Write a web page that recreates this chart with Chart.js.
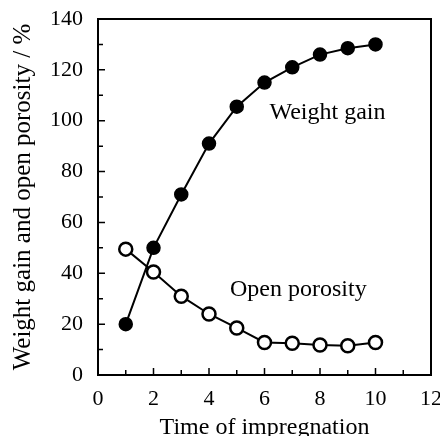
<!DOCTYPE html>
<html>
<head>
<meta charset="utf-8">
<script src="https://cdn.jsdelivr.net/npm/chart.js@4"></script>
<style>
  html, body { margin: 0; padding: 0; background: #fff; }
  #wrap { width: 440px; height: 436px; }
</style>
</head>
<body>
<div id="wrap"><canvas id="chart" width="440" height="436"></canvas></div>
<script>
// data
var times = [1, 2, 3, 4, 5, 6, 7, 8, 9, 10];
var weightGain = [20, 50, 71, 91, 105.5, 115, 121, 126, 128.5, 130];
var openPorosity = [49.5, 40.5, 31, 24, 18.5, 12.8, 12.5, 11.8, 11.5, 12.8];
var xTicks = [0, 2, 4, 6, 8, 10, 12];
var yTicks = [0, 20, 40, 60, 80, 100, 120, 140];

var serif = '"Liberation Serif", "DejaVu Serif", serif';

function toPoints(xs, ys) {
    return xs.map(function(x, i) { return { x: x, y: ys[i] }; });
}

// frame, inward ticks and curve labels
var decor = {
    id: 'decor',
    afterDraw: function(chart) {
        var c = chart.ctx, a = chart.chartArea;
        var xs = chart.scales.x, ys = chart.scales.y;
        c.save();
        c.strokeStyle = '#000';
        c.lineWidth = 2;
        c.strokeRect(a.left, a.top, a.right - a.left, a.bottom - a.top);
        c.lineWidth = 1.5;
        c.beginPath();
        for (var v = 10; v < 140; v += 10) {
            var py = ys.getPixelForValue(v);
            var len = (v % 20 == 0) ? 7 : 5;
            c.moveTo(a.left, py); c.lineTo(a.left + len, py);
        }
        for (var u = 1; u < 12; u++) {
            var px = xs.getPixelForValue(u);
            var l2 = (u % 2 == 0) ? 7 : 5;
            c.moveTo(px, a.bottom); c.lineTo(px, a.bottom - l2);
        }
        c.stroke();
        c.fillStyle = '#000';
        c.font = '24px ' + serif;
        c.textAlign = 'center';
        c.textBaseline = 'middle';
        c.fillText('Weight gain', xs.getPixelForValue(8.27), ys.getPixelForValue(103));
        c.fillText('Open porosity', xs.getPixelForValue(7.22), ys.getPixelForValue(33.4));
        c.restore();
    }
};

var ctx = document.getElementById('chart');
var myChart = new Chart(ctx, {
    type: 'line',
    data: {
        datasets: [
            {
                label: 'Weight gain',
                data: toPoints(times, weightGain),
                borderColor: '#000',
                backgroundColor: '#000',
                borderWidth: 2,
                pointRadius: 6.5,
                pointBorderWidth: 1.5,
                pointBackgroundColor: '#000',
                pointBorderColor: '#000',
                tension: 0
            },
            {
                label: 'Open porosity',
                data: toPoints(times, openPorosity),
                borderColor: '#000',
                backgroundColor: '#fff',
                borderWidth: 2,
                pointRadius: 6.5,
                pointBorderWidth: 2.5,
                pointBackgroundColor: '#fff',
                pointBorderColor: '#000',
                tension: 0
            }
        ]
    },
    options: {
        responsive: false,
        animation: false,
        layout: { padding: { left: 0, top: 19, right: 8, bottom: 0 } },
        plugins: {
            legend: { display: false },
            tooltip: { enabled: false }
        },
        scales: {
            x: {
                type: 'linear',
                min: 0, max: 12,
                afterBuildTicks: function(s) { s.ticks = xTicks.map(function(v) { return { value: v }; }); },
                afterFit: function(s) { s.height = 61; s.paddingLeft = 0; s.paddingRight = 0; },
                grid: { display: false, drawTicks: false },
                border: { display: false },
                ticks: { color: '#000', padding: 11, font: { family: serif, size: 22 } },
                title: { display: true, text: 'Time of impregnation', color: '#000', padding: { top: 0, bottom: -4 }, font: { family: serif, size: 24, lineHeight: 1 } }
            },
            y: {
                min: 0, max: 140,
                afterBuildTicks: function(s) { s.ticks = yTicks.map(function(v) { return { value: v }; }); },
                afterFit: function(s) { s.width = 98; s.paddingTop = 0; s.paddingBottom = 0; },
                grid: { display: false, drawTicks: false },
                border: { display: false },
                ticks: { color: '#000', padding: 15, font: { family: serif, size: 22 } },
                title: { display: true, text: 'Weight gain and open porosity / %', color: '#000', padding: { top: 8, bottom: 4 }, font: { family: serif, size: 25 } }
            }
        }
    },
    plugins: [decor]
});
</script>
</body>
</html>
